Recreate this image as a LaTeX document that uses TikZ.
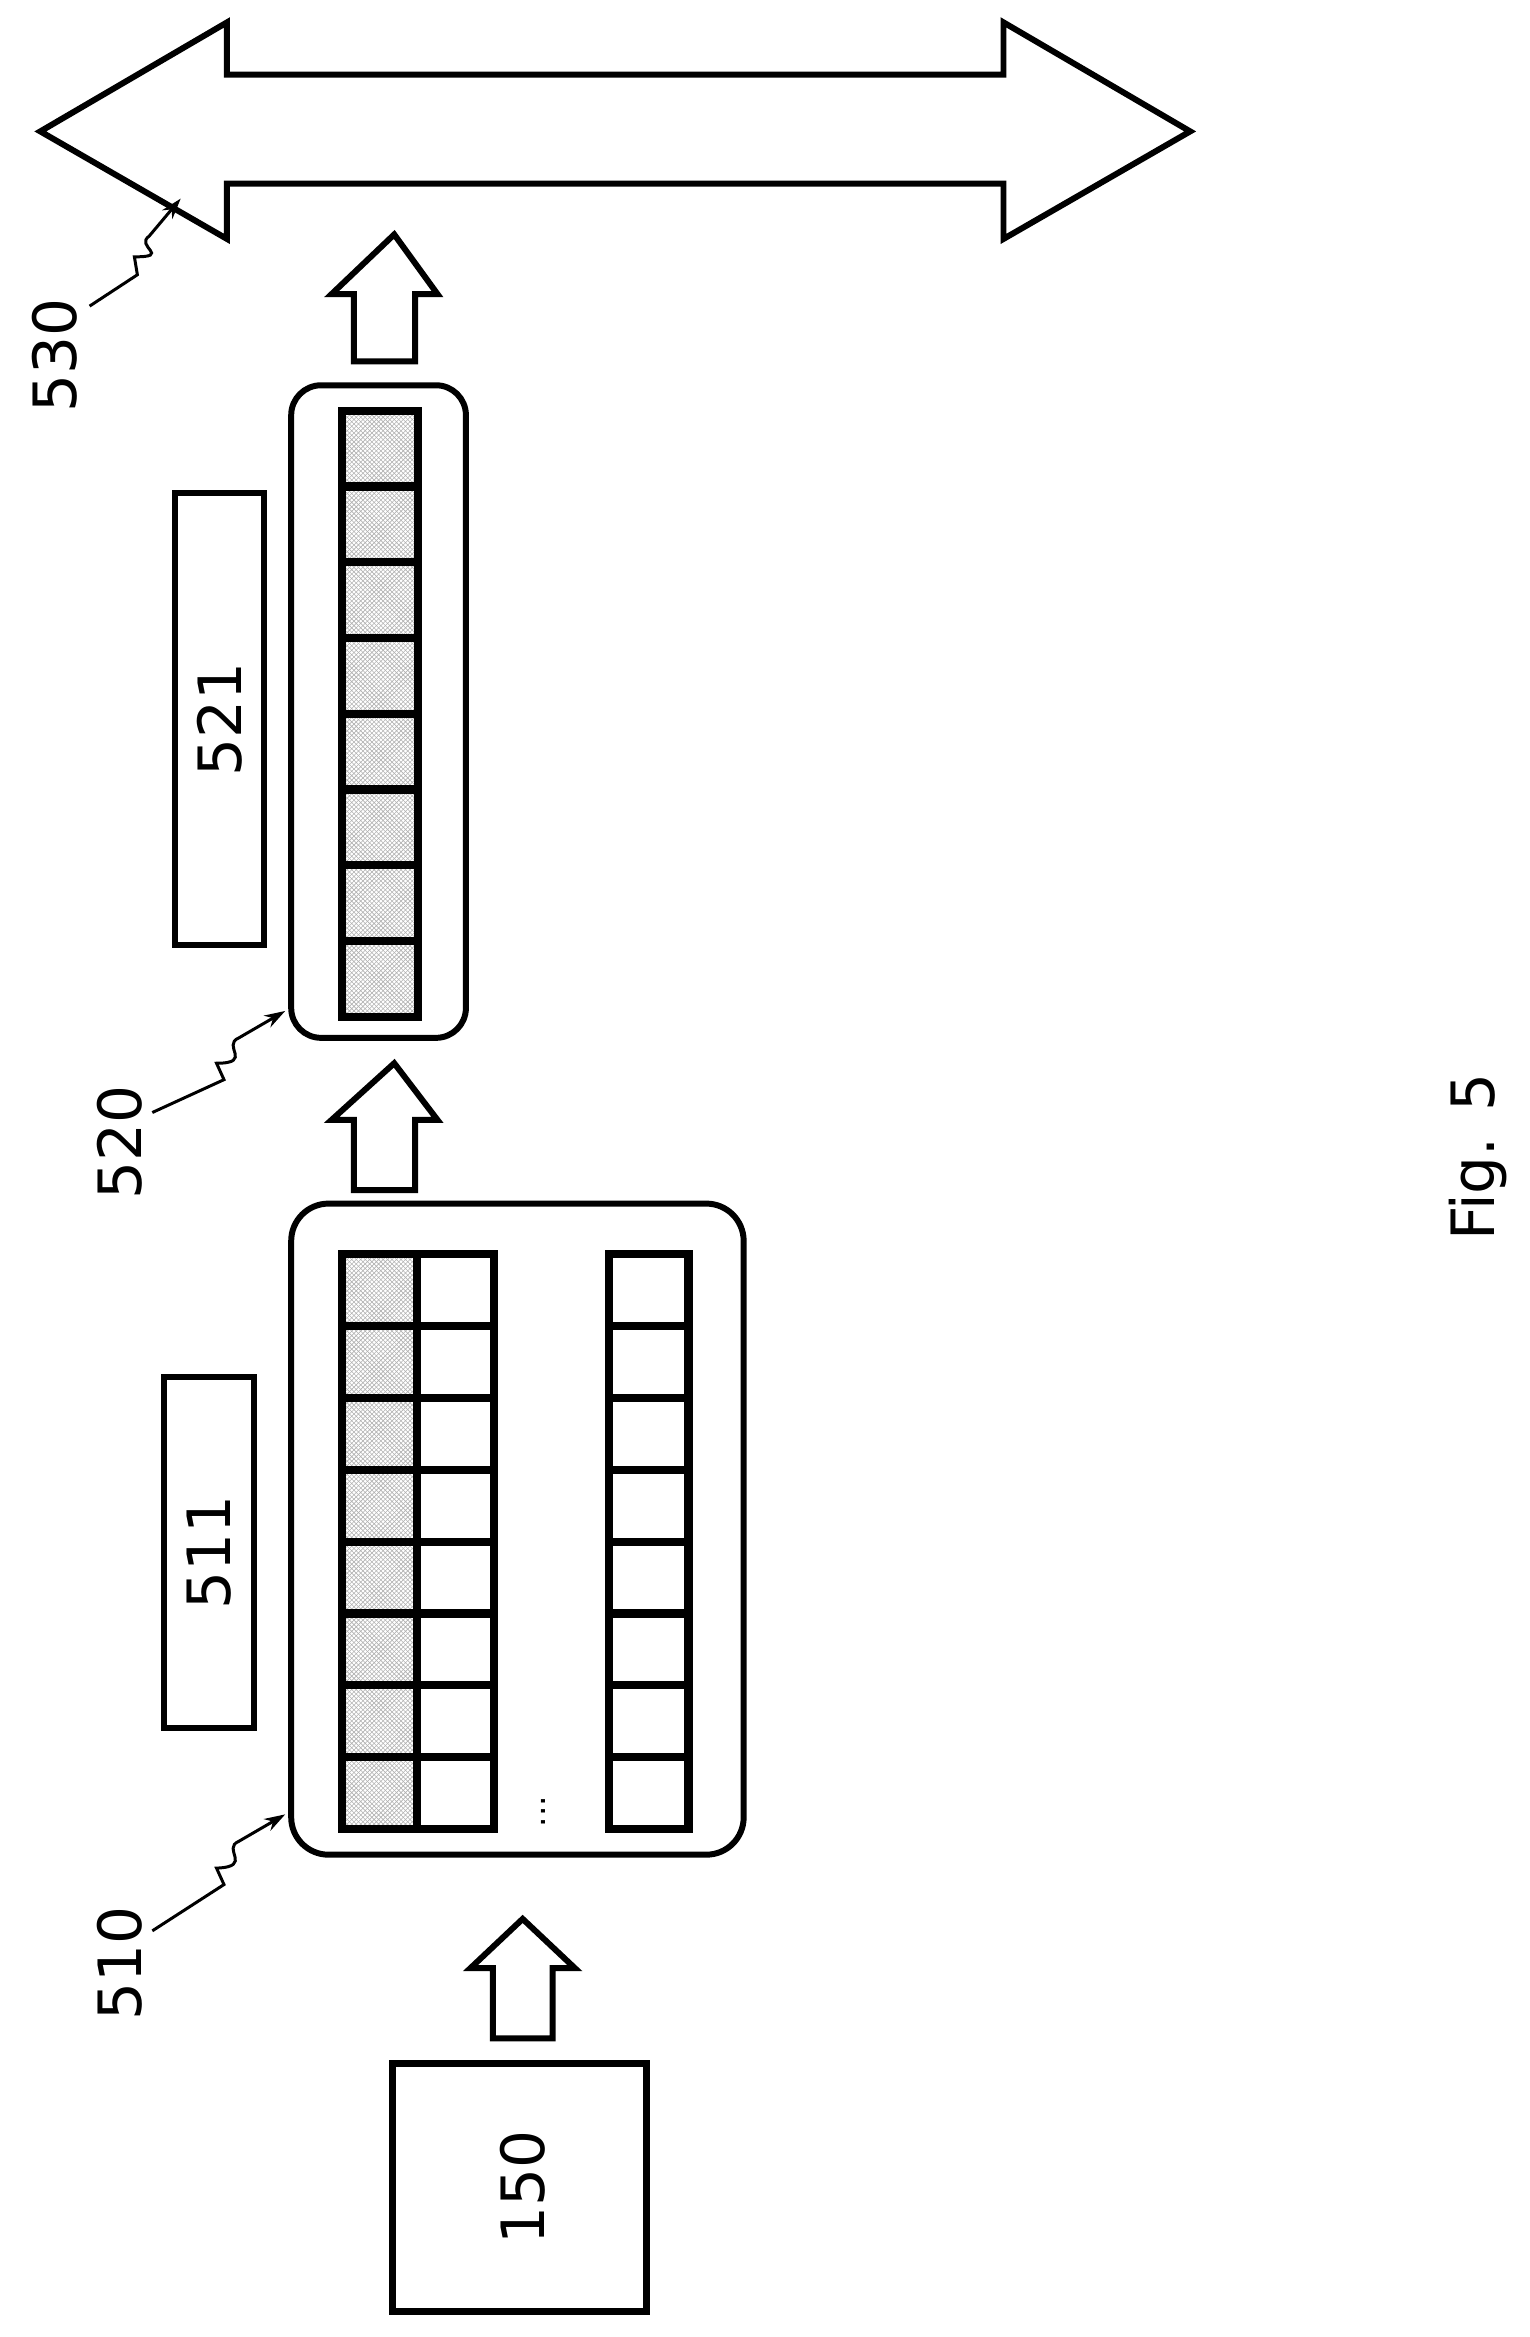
\documentclass[tikz,border=0pt]{standalone}
\usepackage{fontspec}
\setmainfont{DejaVu Sans}
\usetikzlibrary{patterns,arrows.meta}
\begin{document}
\begin{tikzpicture}[x=1pt,y=-1pt,
  blk/.style={draw,line width=4pt,line join=miter},
  cell/.style={draw,line width=5.5pt},
  hat/.style={pattern=crosshatch,pattern color=gray!60},
  lbl/.style={font=\fontsize{40}{40}\selectfont,rotate=90,inner sep=0pt},
  lead/.style={line width=2pt,-{Stealth[length=14pt,width=9pt]}}]
\useasboundingbox (0,0) rectangle (1024,1565);
% big double arrow
\draw[blk] (27,88) -- (152,15) -- (152,50) -- (672,50) -- (672,15) -- (797,88) -- (672,160) -- (672,123) -- (152,123) -- (152,160) -- cycle;
% up arrows
\draw[blk] (264,157) -- (293,197) -- (278,197) -- (278,242) -- (237,242) -- (237,197) -- (222,197) -- cycle;
\draw[blk] (264,712) -- (293,750) -- (278,750) -- (278,797) -- (237,797) -- (237,750) -- (222,750) -- cycle;
\draw[blk] (350,1285) -- (385,1318) -- (370,1318) -- (370,1365) -- (330,1365) -- (330,1318) -- (315,1318) -- cycle;
% box 520
\node[draw,line width=4pt,rounded corners=20pt,minimum width=117pt,minimum height=437pt] (b520) at (253.5,476.5) {};
\foreach \i in {0,...,7}{
  \path[hat] (229,{275+\i*50.75}) rectangle (280,{275+(\i+1)*50.75});
  \draw[cell] (229,{275+\i*50.75}) rectangle (280,{275+(\i+1)*50.75});}
% box 521
\node[draw,line width=4pt,minimum width=60pt,minimum height=303pt] (b521) at (147,481.5) {};
\node[lbl] (t521) at (147,481.5) {521};
% box 510
\node[draw,line width=4pt,rounded corners=25pt,minimum width=303pt,minimum height=436pt] (b510) at (346.5,1024) {};
\foreach \i in {0,...,7}{
  \path[hat] (229,{840+\i*48.1}) rectangle (279,{840+(\i+1)*48.1});
  \draw[cell] (229,{840+\i*48.1}) rectangle (279,{840+(\i+1)*48.1});
  \draw[cell] (279,{840+\i*48.1}) rectangle (331,{840+(\i+1)*48.1});
  \draw[cell] (408,{840+\i*48.1}) rectangle (461,{840+(\i+1)*48.1});}
\node[rotate=90,font=\fontsize{22}{22}\selectfont] (dots) at (364,1213) {...};
% box 511
\node[draw,line width=4pt,minimum width=60pt,minimum height=235pt] (b511) at (140,1039.5) {};
\node[lbl] (t511) at (140,1039.5) {511};
% box 150
\node[draw,line width=4.5pt,minimum width=170pt,minimum height=166pt] (b150) at (348,1465) {};
\node[lbl] (t150) at (350,1465) {150};
% labels
\node[lbl] (l530) at (37,238) {530};
\node[lbl] (l520) at (80,765) {520};
\node[lbl] (l510) at (80,1315) {510};
\node[lbl] (fig) at (990,775) {Fig. 5};
\coordinate (e530) at (121,133);
\coordinate (e520) at (191,677);
\coordinate (e510) at (191,1215);
\draw[lead] (60,205) -- (92,184) -- (90,172) .. controls (115,172) and (90,165) .. (100,158) -- (e530);
\draw[lead] (102,745) -- (150,723) -- (145,712) .. controls (170,712) and (148,700) .. (160,695) -- (e520);
\draw[lead] (102,1293) -- (150,1262) -- (145,1251) .. controls (170,1250) and (148,1238) .. (160,1233) -- (e510);
\end{tikzpicture}
\end{document}
